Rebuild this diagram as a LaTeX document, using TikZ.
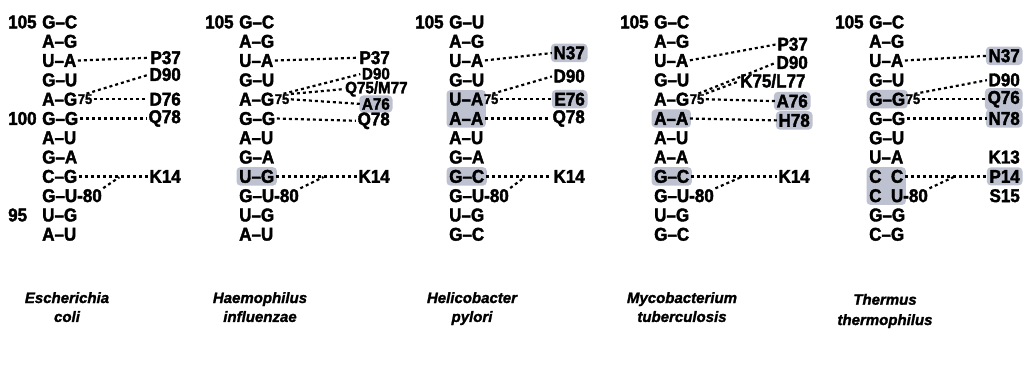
\documentclass[tikz,border=0pt]{standalone}
\usepackage{fontspec}
\setmainfont{Liberation Sans}
\newfontfamily\dfont{Liberation Sans}[UprightFont={* Bold},FakeStretch=0.92,FakeBold=2]
\newfontfamily\spfont{Liberation Sans}[UprightFont={* Bold Italic},FakeBold=1.5]
\usetikzlibrary{backgrounds,fit,calc}
\definecolor{hlc}{RGB}{190,194,208}
\tikzset{
  txt/.style={font=\dfont\fontsize{18.5}{18.5}\selectfont, inner sep=0pt},
  small/.style={font=\dfont\fontsize{16.5}{16.5}\selectfont},
  pairn/.style={txt, anchor=west},
  lab/.style={txt, anchor=east},
  labw/.style={txt, anchor=west},
  num/.style={txt, anchor=west},
  sub/.style={font=\dfont\fontsize{14}{14}\selectfont, inner sep=0pt, anchor=west},
  species/.style={font=\spfont\fontsize{15}{15}\selectfont, inner sep=0pt, anchor=base},
  link/.style={line width=2.2pt, dash pattern=on 3pt off 3pt, shorten <=1.5pt, shorten >=1.5pt},
  hl/.style={fill=hlc, rounded corners=4pt, draw=none, inner sep=2.5pt},
}
\newcommand\panelrows[2]{\foreach \t [count=\i from 0] in {#2} {\node[pairn] (#1r\i) at (34,\i) {\t};}}
\begin{document}
\begin{tikzpicture}[x=1pt,y=-1pt]
\begin{pgfonlayer}{background}
\fill[white] (0,0) rectangle (1029,369);
\end{pgfonlayer}
\useasboundingbox (0,0) rectangle (1029,369);
% Panel 1
\begin{scope}[xshift=8pt,yshift=-22pt,x=1pt,y=-19.3pt]
\panelrows{a}{G–C,A–G,U–A,G–U,A–G,G–G,A–U,G–A,C–G,G–U-80,U–G,A–U}
\node[num] (a105) at (0,0) {105};
\node[num] (a100) at (0,5) {100};
\node[num] (a95) at (0,10) {95};
\node[sub] (a75) at ([xshift=0.3pt]ar4.east) {75};
\node[lab] (aP37) at (173,1.85) {P37};
\node[lab] (aD90) at (173,2.72) {D90};
\node[lab] (aD76) at (173,4) {D76};
\node[lab] (aQ78) at (173,5) {Q78};
\node[lab] (aK14) at (173,8) {K14};
\coordinate (aj) at ($(ar8.east)!0.6!(aK14.west)$);
\draw[link] (ar2.east) -- (aP37.west);
\draw[link] (a75.north) -- (aD90.west);
\draw[link] (a75.east) -- (aD76.west);
\draw[link] (ar5.east) -- (aQ78.west);
\draw[link] (ar8.east) -- (aK14.west);
\draw[link] (ar9.north east) -- (aj);
\node[species] (asp1) at (59,14.56) {Escherichia};
\node[species] (asp2) at (59,15.54) {coli};
\end{scope}
% Panel 2
\begin{scope}[xshift=205pt,yshift=-22pt,x=1pt,y=-19.3pt]
\panelrows{b}{G–C,A–G,U–A,G–U,A–G,G–G,A–U,G–A,U–G,G–U-80,U–G,A–U}
\node[num] (b105) at (0,0) {105};
\node[sub] (b75) at ([xshift=0.3pt]br4.east) {75};
\node[lab] (bP37) at (185,1.85) {P37};
\node[lab, small] (bD90) at (185,2.68) {D90};
\node[labw, small] (bQ) at (140,3.47) {Q75/M77};
\node[lab, small] (bA76) at (185,4.25) {A76};
\node[lab] (bQ78) at (185,5.12) {Q78};
\node[lab] (bK14) at (185,8) {K14};
\coordinate (bj) at ($(br8.east)!0.6!(bK14.west)$);
\draw[link] (br2.east) -- (bP37.west);
\draw[link] (b75.north) -- (bD90.west);
\draw[link] (b75.north east) -- (bQ.west);
\draw[link] (b75.east) -- (bA76.west);
\draw[link] (br5.east) -- (bQ78.west);
\draw[link] (br8.east) -- (bK14.west);
\draw[link] (br9.north east) -- (bj);
\node[species] (bsp1) at (55,14.56) {Haemophilus};
\node[species] (bsp2) at (55,15.54) {influenzae};
\begin{pgfonlayer}{background}
\node[hl, fit=(bA76)] {};
\node[hl, fit=(br8)] {};
\end{pgfonlayer}
\end{scope}
% Panel 3
\begin{scope}[xshift=415pt,yshift=-22pt,x=1pt,y=-19.3pt]
\panelrows{c}{G–U,A–G,U–A,G–U,U–A,A–A,A–U,G–A,G–C,G–U-80,U–G,G–C}
\node[num] (c105) at (0,0) {105};
\node[sub] (c75) at ([xshift=0.3pt]cr4.east) {75};
\node[lab] (cN37) at (170,1.6) {N37};
\node[lab] (cD90) at (170,2.8) {D90};
\node[lab] (cE76) at (170,4) {E76};
\node[lab] (cQ78) at (170,5) {Q78};
\node[lab] (cK14) at (170,8) {K14};
\coordinate (cj) at ($(cr8.east)!0.6!(cK14.west)$);
\draw[link] (cr2.east) -- (cN37.west);
\draw[link] (c75.north) -- (cD90.west);
\draw[link] (c75.east) -- (cE76.west);
\draw[link] (cr5.east) -- (cQ78.west);
\draw[link] (cr8.east) -- (cK14.west);
\draw[link] (cr9.north east) -- (cj);
\node[species] (csp1) at (57,14.56) {Helicobacter};
\node[species] (csp2) at (57,15.54) {pylori};
\begin{pgfonlayer}{background}
\node[hl, fit=(cN37)] {};
\node[hl, fit=(cE76)] {};
\node[hl, fit=(cr4)(cr5)] {};
\node[hl, fit=(cr8)] {};
\end{pgfonlayer}
\end{scope}
% Panel 4
\begin{scope}[xshift=620pt,yshift=-22pt,x=1pt,y=-19.3pt]
\panelrows{d}{G–C,A–G,U–A,G–U,A–G,A–A,A–U,A–A,G–C,G–U-80,U–G,G–C}
\node[num] (d105) at (0,0) {105};
\node[sub] (d75) at ([xshift=0.3pt]dr4.east) {75};
\node[lab] (dP37) at (188,1.15) {P37};
\node[lab] (dD90) at (188,2.1) {D90};
\node[labw] (dK) at (120,3.05) {K75/L77};
\node[lab] (dA76) at (188,4.1) {A76};
\node[lab] (dH78) at (190,5.1) {H78};
\node[lab] (dK14) at (190,8) {K14};
\coordinate (dj) at ($(dr8.east)!0.6!(dK14.west)$);
\draw[link] (dr2.east) -- (dP37.west);
\draw[link] (d75.north) -- (dD90.west);
\draw[link] (d75.north east) -- (dK.west);
\draw[link] (d75.east) -- (dA76.west);
\draw[link] (dr5.east) -- (dH78.west);
\draw[link] (dr8.east) -- (dK14.west);
\draw[link] (dr9.north east) -- (dj);
\node[species] (dsp1) at (62,14.56) {Mycobacterium};
\node[species] (dsp2) at (62,15.54) {tuberculosis};
\begin{pgfonlayer}{background}
\node[hl, fit=(dA76)] {};
\node[hl, fit=(dH78)] {};
\node[hl, fit=(dr5)] {};
\node[hl, fit=(dr8)] {};
\end{pgfonlayer}
\end{scope}
% Panel 5
\begin{scope}[xshift=835pt,yshift=-22pt,x=1pt,y=-19.3pt]
\panelrows{e}{G–C,A–G,U–A,G–U,G–G,G–G,G–U,U–A,C\hphantom{–}C,C\hphantom{–}U-80,G–G,C–G}
\node[num] (e105) at (0,0) {105};
\node[sub] (e75) at ([xshift=0.3pt]er4.east) {75};
\node[lab] (eN37) at (185,1.75) {N37};
\node[lab] (eD90) at (185,3) {D90};
\node[lab] (eQ76) at (185,4) {Q76};
\node[lab] (eN78) at (185,5) {N78};
\node[lab] (eK13) at (185,7) {K13};
\node[lab] (eP14) at (185,8) {P14};
\node[lab] (eS15) at (185,9) {S15};
\coordinate (ej) at ($(er8.east)!0.6!(eP14.west)$);
\draw[link] (er2.east) -- (eN37.west);
\draw[link] (e75.north) -- (eD90.west);
\draw[link] (e75.east) -- (eQ76.west);
\draw[link] (er5.east) -- (eN78.west);
\draw[link] (er8.east) -- (eP14.west);
\draw[link] (er9.north east) -- (ej);
\node[species] (esp1) at (50,14.65) {Thermus};
\node[species] (esp2) at (50,15.7) {thermophilus};
\begin{pgfonlayer}{background}
\node[hl, fit=(eN37)] {};
\node[hl, fit=(eQ76)] {};
\node[hl, fit=(eN78)] {};
\node[hl, fit=(eP14)] {};
\node[hl, fit=(er4)] {};
\node[hl, fit=(er8)(er9.south west)] {};
\end{pgfonlayer}
\end{scope}
\end{tikzpicture}
\end{document}
